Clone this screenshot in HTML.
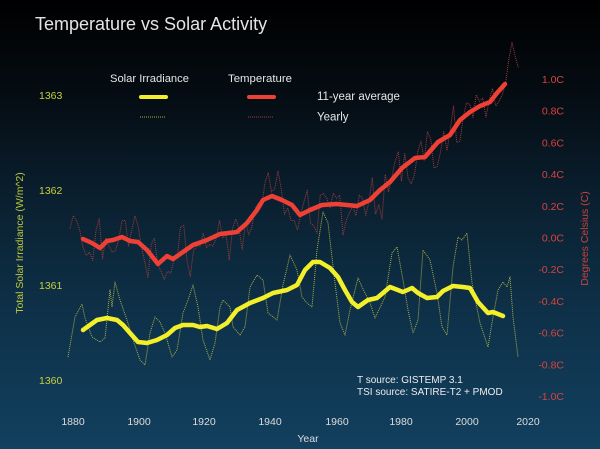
<!DOCTYPE html>
<html>
<head>
<meta charset="utf-8">
<style>
  html,body{margin:0;padding:0;width:600px;height:449px;overflow:hidden;background:#000;}
  svg{display:block;}
  text{font-family:"Liberation Sans",Arial,sans-serif;}
</style>
</head>
<body>
<svg width="600" height="449" viewBox="0 0 600 449" xmlns="http://www.w3.org/2000/svg">
  <defs>
    <linearGradient id="bg" x1="0" y1="0" x2="0" y2="1">
      <stop offset="0" stop-color="#000000"/>
      <stop offset="0.22" stop-color="#050d14"/>
      <stop offset="0.45" stop-color="#0a2030"/>
      <stop offset="0.7" stop-color="#0e3149"/>
      <stop offset="1" stop-color="#12405f"/>
    </linearGradient>
  </defs>
  <rect x="0" y="0" width="600" height="449" fill="url(#bg)"/>

  <!-- Title -->
  <text x="35" y="30" font-size="18" fill="#e4e4e4">Temperature vs Solar Activity</text>

  <!-- Legend -->
  <text x="110" y="82" font-size="11.2" fill="#e6e6e6">Solar Irradiance</text>
  <text x="228" y="82" font-size="11.4" fill="#e6e6e6">Temperature</text>
  <line x1="141" y1="97" x2="166" y2="97" stroke="#f3ef2a" stroke-width="4" stroke-linecap="round"/>
  <line x1="249" y1="97" x2="274" y2="97" stroke="#ee4035" stroke-width="4" stroke-linecap="round"/>
  <line x1="140" y1="117" x2="166" y2="117" stroke="#a8b04a" stroke-width="1" stroke-dasharray="1 1"/>
  <line x1="248" y1="117" x2="274" y2="117" stroke="#a03c3c" stroke-width="1" stroke-dasharray="1 1"/>
  <text x="317" y="100" font-size="11.5" fill="#e6e6e6">11-year average</text>
  <text x="317" y="120.5" font-size="11.5" fill="#e6e6e6">Yearly</text>

  <!-- Left axis labels -->
  <g font-size="10.5" fill="#c5d03d">
    <text x="39" y="99">1363</text>
    <text x="39" y="194">1362</text>
    <text x="39" y="289">1361</text>
    <text x="39" y="384">1360</text>
  </g>
  <text transform="translate(23,243) rotate(-90)" text-anchor="middle" font-size="10.5" fill="#bcc83e">Total Solar Irradiance (W/m^2)</text>

  <!-- Right axis labels -->
  <g font-size="10.5" fill="#d8433d" text-anchor="end">
    <text x="564" y="83">1.0C</text>
    <text x="564" y="114.7">0.8C</text>
    <text x="564" y="146.4">0.6C</text>
    <text x="564" y="178.1">0.4C</text>
    <text x="564" y="209.8">0.2C</text>
    <text x="564" y="241.5">0.0C</text>
    <text x="564" y="273.2">-0.2C</text>
    <text x="564" y="304.9">-0.4C</text>
    <text x="564" y="336.6">-0.6C</text>
    <text x="564" y="368.3">-0.8C</text>
    <text x="564" y="400">-1.0C</text>
  </g>
  <text transform="translate(588,238.5) rotate(-90)" text-anchor="middle" font-size="10.5" fill="#c8423c">Degrees Celsius (C)</text>

  <!-- X axis labels -->
  <g font-size="10.5" fill="#dcdcdc" text-anchor="middle">
    <text x="73" y="425">1880</text>
    <text x="139" y="425">1900</text>
    <text x="204" y="425">1920</text>
    <text x="270" y="425">1940</text>
    <text x="337" y="425">1960</text>
    <text x="401" y="425">1980</text>
    <text x="467" y="425">2000</text>
    <text x="528" y="425">2020</text>
  </g>
  <text x="308" y="442" font-size="10.5" fill="#dcdcdc" text-anchor="middle">Year</text>

  <!-- Source text -->
  <text x="357" y="383" font-size="10" fill="#ececec">T source: GISTEMP 3.1</text>
  <text x="357" y="395" font-size="10" fill="#ececec">TSI source: SATIRE-T2 + PMOD</text>

  <!-- TSI yearly (dotted) -->
  <polyline fill="none" stroke="#a8b04a" stroke-width="1" stroke-dasharray="1 1" stroke-linejoin="round"
    points="68,357 75,317 82,304 85,318 92,337 100,342 105,338 110,290 112,307 115,282 120,300 127,320 133,340 140,360 145,365 150,333 155,317 160,322 165,333 172,357 177,350 183,313 188,300 193,285 198,307 203,340 210,360 215,343 220,307 223,300 230,307 233,327 240,335 245,327 250,287 257,275 263,280 268,313 277,320 283,285 290,255 297,270 302,297 307,303 312,307 317,250 323,212 328,223 335,283 340,323 345,335 350,310 358,278 362,287 370,303 375,318 385,297 392,253 397,247 403,280 408,310 413,333 418,320 423,250 430,260 437,293 442,327 447,335 453,267 458,237 462,240 467,233 472,283 480,323 488,347 493,317 498,290 503,282 507,287 510,277 513,317 518,357"/>

  <!-- Temperature yearly (dotted) -->
  <polyline fill="none" stroke="#a03c3c" stroke-width="1" stroke-dasharray="1 1" stroke-linejoin="round"
    points="70,228.5 73.25,215.7 76.5,220.5 79.75,230 83,247.5 86.25,255.5 89.5,252.3 92.75,260.3 96,230 99.25,218.9 102.5,258.7 105.75,238 109,246 112.25,252.3 115.5,250.7 118.75,239.6 122,220.5 125.25,220.5 128.5,246 131.75,230 135,215.7 138.25,226.9 141.5,247.5 144.75,261.9 148,277.7 151.25,244.4 154.5,238 157.75,265 161,271.4 164.25,279.3 167.5,271.4 170.75,273 174,260.3 177.25,257.1 180.5,226.9 183.75,225.3 187,260.3 190.25,276.2 193.5,250.7 196.75,246 200,246 203.25,233.2 206.5,247.5 209.75,244.4 213,246 216.25,238 219.5,220.5 222.75,238 226,234.8 229.25,260.3 232.5,228.5 235.75,218.9 239,228.5 242.25,249.1 245.5,222.1 248.75,234.8 252,226.9 255.25,207.8 258.5,203 261.75,206.2 265,182.3 268.25,172.8 271.5,191.9 274.75,188.7 278,171.2 281.25,188.7 284.5,214.2 287.75,207.8 291,220.5 294.25,220.5 297.5,230 300.75,214.2 304,201.4 307.25,190.3 310.5,223.7 313.75,225.3 317,233.2 320.25,195.1 323.5,193.5 326.75,198.2 330,207.8 333.25,193.5 336.5,198.2 339.75,195.1 343,234.8 346.25,220.5 349.5,212.6 352.75,206.2 356,215.7 359.25,195.1 362.5,198.2 365.75,215.7 369,201.4 372.25,177.6 375.5,214.2 378.75,204.6 382,218.9 385.25,174.4 388.5,191.9 391.75,177.6 395,161.7 398.25,152.1 401.5,180.8 404.75,153.7 408,177.6 411.25,183.9 414.5,174.4 417.75,152.1 421,141 424.25,160.1 427.5,131.5 430.75,139.4 434,168 437.25,166.4 440.5,152.1 443.75,131.5 447,150.6 450.25,129.9 453.5,106 456.75,142.6 460,141 463.25,117.2 466.5,102.8 469.75,104.4 473,117.2 476.25,94.9 479.5,101.3 482.75,98.1 486,117.2 489.25,99.7 492.5,88.5 495.75,106 499,101.3 502.25,94.9 505.5,83.8 508.75,59.9 512,42.4 515.25,56.7 518.5,67.9"/>

  <!-- TSI 11-year average -->
  <polyline fill="none" stroke="#f3ef2a" stroke-width="4.5" stroke-linecap="round" stroke-linejoin="round"
    points="83,330 90,325 97,320 107,318 117,320 123,325 130,333 138,342 147,343 157,340 167,335 175,328 183,325 193,325 200,327 207,326 217,329 227,323 237,310 250,303 263,298 273,293 287,290 297,285 305,270 313,262 320,262 330,268 338,277 345,290 352,302 358,307 368,300 377,298 390,287 403,292 412,288 418,293 427,298 437,297 443,291 453,286 463,287 470,288 478,302 488,313 493,312 503,316"/>

  <!-- Temperature 11-year average -->
  <polyline fill="none" stroke="#ee4035" stroke-width="4.5" stroke-linecap="round" stroke-linejoin="round"
    points="83,239 92,243 100,248 107,241 113,240 122,237 130,241 138,242 147,250 158,264 167,256 173,259 183,252 193,245 207,240 220,234 237,232 247,223 257,210 263,200 272,196 282,200 292,205 300,215 310,210 322,205 337,204 357,206 370,200 380,190 390,182 402,168 415,158 425,157 438,142 450,135 460,120 470,112 480,106 490,102 497,93 505,84"/>
</svg>
</body>
</html>
